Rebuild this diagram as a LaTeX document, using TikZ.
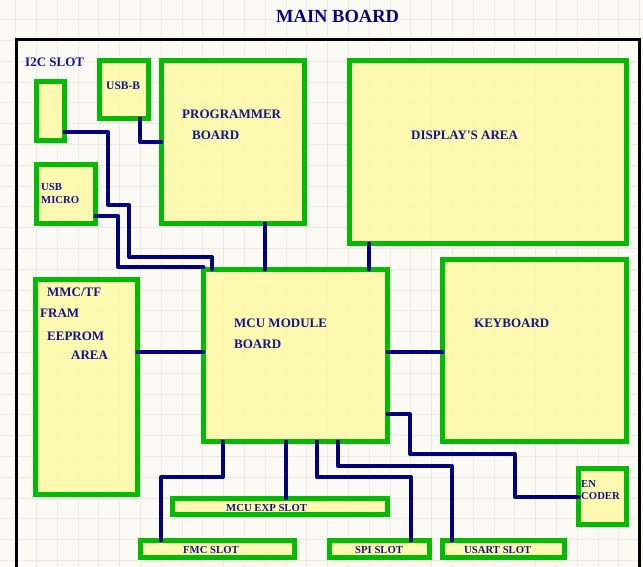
\documentclass[tikz,border=0pt]{standalone}
\usepackage{fontspec}
\setmainfont{Liberation Serif}
\usepackage{tikz}
\usetikzlibrary{positioning}

\definecolor{pcbbg}{RGB}{252,250,245}
\definecolor{pcbgrid}{RGB}{236,233,224}
\definecolor{pcbgreen}{RGB}{0,187,0}
\definecolor{pcbyellow}{RGB}{255,249,168}
\definecolor{pcbnavy}{RGB}{0,0,128}
\definecolor{txtnavy}{RGB}{20,20,135}

\tikzset{
  blk/.style={draw=pcbgreen, line width=5pt, fill=pcbyellow, fill opacity=0.88,
    rectangle, inner sep=0pt, outer sep=0pt},
  wire/.style={draw=pcbnavy, line width=4pt, line cap=round, line join=round},
  lbl/.style={font=\bfseries\fontsize{13}{14}\selectfont, text=txtnavy,
    anchor=base west, inner sep=0pt},
  slbl/.style={font=\bfseries\fontsize{10.7}{12}\selectfont, text=txtnavy,
    anchor=base west, inner sep=0pt},
  gridln/.style={draw=pcbgrid, line width=0.8pt},
}

\begin{document}
\begin{tikzpicture}[x=1pt, y=-1pt]

  \useasboundingbox (0,0) rectangle (643,567);
  \fill[pcbbg] (0,0) rectangle (643,567);
  \foreach \gx in {0,...,30} \draw[gridln] (15.6+20.8*\gx,0) -- ++(0,567); %
  \foreach \gy in {0,...,27} \draw[gridln] (0,-1.2+20.8*\gy) -- ++(643,0); %

  % board outline
  \draw[line width=3pt, line join=miter] (16.5,567) -- (16.5,39.5) -- (639.5,39.5) -- (639.5,567);
  \node[font=\bfseries\fontsize{18.5}{20}\selectfont, text=pcbnavy, anchor=base west, inner sep=0pt]
    (ttl) at (276,23) {MAIN BOARD};

  % blocks
  \node[blk, minimum width=28pt,  minimum height=59pt]  (i2c)   at (50.5,111)   {}; %
  \node[blk, minimum width=49pt,  minimum height=58pt]  (usbb)  at (124,89.5)   {}; %
  \node[blk, minimum width=143pt, minimum height=163pt] (prog)  at (233,142)    {}; %
  \node[blk, minimum width=59pt,  minimum height=59pt]  (usbm)  at (66,194)     {}; %
  \node[blk, minimum width=277pt, minimum height=183pt] (disp)  at (488,152)    {}; %
  \node[blk, minimum width=102pt, minimum height=215pt] (mmc)   at (86.5,387)   {}; %
  \node[blk, minimum width=184pt, minimum height=172pt] (mcu)   at (295.5,355.5) {}; %
  \node[blk, minimum width=184pt, minimum height=182pt] (keyb)  at (534.5,350.5) {}; %
  \node[blk, minimum width=48pt,  minimum height=56pt]  (enc)   at (602.5,496.5) {}; %
  \node[blk, minimum width=215pt, minimum height=16pt]  (exp)   at (280,506.5)  {}; %
  \node[blk, minimum width=154pt, minimum height=17pt]  (fmc)   at (217.5,549)  {}; %
  \node[blk, minimum width=100pt, minimum height=17pt]  (spi)   at (379.5,549)  {}; %
  \node[blk, minimum width=122pt, minimum height=17pt]  (usart) at (503.5,549)  {}; %

  % connections
  \draw[wire] (i2c.east |- 0,132) -- (108,132) -- (108,205) -- (129,205) -- (129,257)
    -- (212,257) -- (mcu.north -| 212,0);
  \draw[wire] (usbm.east |- 0,216) -- (118,216) -- (118,267) -- (mcu.north west |- 0,267);
  \draw[wire] (usbb.south -| 140,0) -- (140,142) -- (prog.west |- 0,142);
  \draw[wire] (prog.south -| 265,0) -- (mcu.north -| 265,0);
  \draw[wire] (disp.south -| 369,0) -- (mcu.north -| 369,0);
  \draw[wire] (mmc.east |- 0,352) -- (mcu.west |- 0,352);
  \draw[wire] (mcu.east |- 0,352) -- (keyb.west |- 0,352);
  \draw[wire] (mcu.east |- 0,414) -- (410,414) -- (410,454) -- (515,454) -- (515,497)
    -- (enc.west |- 0,497);
  \draw[wire] (mcu.south -| 338,0) -- (338,466) -- (452,466) -- (usart.north -| 452,0);
  \draw[wire] (mcu.south -| 317,0) -- (317,477) -- (411,477) -- (spi.north -| 411,0);
  \draw[wire] (mcu.south -| 286,0) -- (exp.north -| 286,0);
  \draw[wire] (mcu.south -| 223,0) -- (223,477) -- (161,477) -- (fmc.north -| 161,0);

  % labels
  \node[lbl] (i2c-l)   at (25,66.5)  {I2C SLOT};
  \node[lbl, font=\bfseries\fontsize{11.5}{12}\selectfont] (usbb-l) at (106,90) {USB-B};
  \node[lbl] (prog-l1) at (182,119)  {PROGRAMMER};
  \node[lbl] (prog-l2) at (192,140)  {BOARD};
  \node[slbl] (usbm-l1) at (41,191)  {USB};
  \node[slbl] (usbm-l2) at (41,204)  {MICRO};
  \node[lbl] (disp-l)  at (411,140)  {DISPLAY\textquotesingle S AREA};
  \node[lbl] (mmc-l1)  at (47,296)   {MMC/TF};
  \node[lbl] (mmc-l2)  at (40,317)   {FRAM};
  \node[lbl] (mmc-l3)  at (47,340)   {EEPROM};
  \node[lbl] (mmc-l4)  at (71,359)   {AREA};
  \node[lbl] (mcu-l1)  at (234,327)  {MCU MODULE};
  \node[lbl] (mcu-l2)  at (234,348)  {BOARD};
  \node[lbl] (keyb-l)  at (474,327)  {KEYBOARD};
  \node[slbl] (enc-l1) at (581,487)  {EN};
  \node[slbl] (enc-l2) at (581,499)  {CODER};
  \node[slbl] (exp-l)  at (226,511)  {MCU EXP SLOT};
  \node[slbl] (fmc-l)  at (183,553)  {FMC SLOT};
  \node[slbl] (spi-l)  at (355,553)  {SPI SLOT};
  \node[slbl] (usart-l) at (464,553) {USART SLOT};

\end{tikzpicture}
\end{document}
